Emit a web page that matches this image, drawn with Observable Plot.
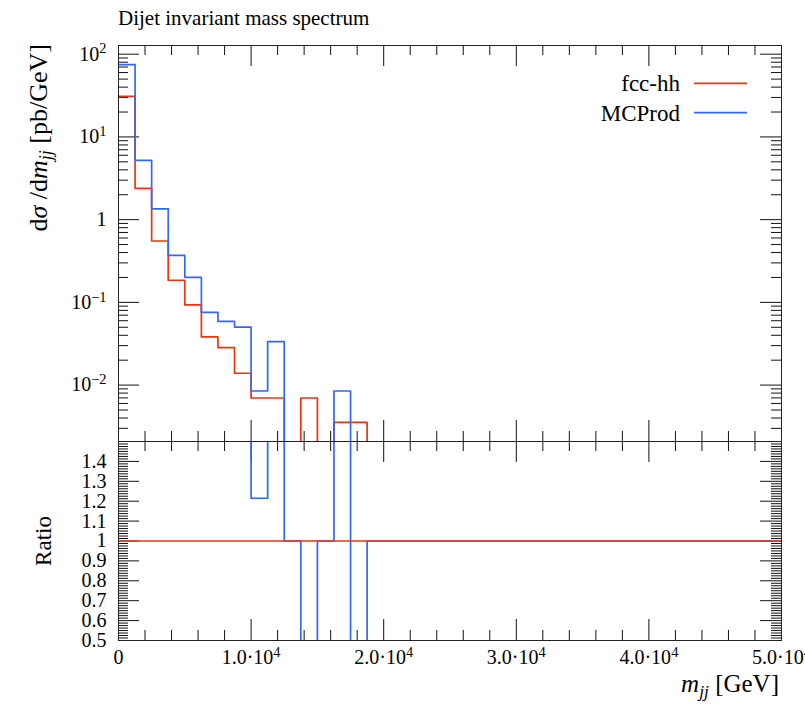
<!DOCTYPE html>
<html><head><meta charset="utf-8">
<script src="https://cdn.jsdelivr.net/npm/d3@7"></script>
<script src="https://cdn.jsdelivr.net/npm/@observablehq/plot@0.6"></script>
<style>
html,body{margin:0;padding:0;background:#fff;}
#chart{position:relative;width:805px;height:704px;font-family:"Liberation Serif",serif;}
#chart svg{position:absolute;left:0;overflow:visible;}
</style></head><body><div id="chart"></div>
<script>
// ---------- data ----------
const title = "Dijet invariant mass spectrum";
const seriesNames = ["fcc-hh", "MCProd"];
const seriesColors = ["#ee3311", "#3366ff"];
const binLowEdges = [0,1250,2500,3750,5000,6250,7500,8750,10000,11250,12500,13750,15000,16250,17500];
const lastEdge = 18750;
const xMax = 50000;
const fccHH  = [31.0,2.39,0.552,0.185,0.093,0.0382,0.0283,0.0139,0.00698,0.00698,0,0.00698,0,0.00354,0.00354];
const mcProd = [74.8,5.21,1.35,0.370,0.201,0.0757,0.0590,0.0503,0.00848,0.0335,0,0,0,0.00848,0];
const xTickValues = [0,10000,20000,30000,40000,50000];
const xTickLabels = ["0","1.0·10^4","2.0·10^4","3.0·10^4","4.0·10^4","5.0·10^4"];
const yTickValues = [100,10,1,0.1,0.01];
const yTickLabels = ["10^2","10^1","1","10^−1","10^−2"];
const ratioTickValues = [1.4,1.3,1.2,1.1,1.0,0.9,0.8,0.7,0.6,0.5];
const ratioTickLabels = ["1.4","1.3","1.2","1.1","1","0.9","0.8","0.7","0.6","0.5"];

// ---------- layout ----------
const W = 805, mainH = 441, ratioH = 263;
const mL = 118, mR = 24, mainTop = 45, ratioBottom = 64;
const plotW = W - mL - mR, mainPlotH = mainH - mainTop, ratioPlotH = ratioH - ratioBottom;
const yDomain = [0.00208, 127.4];
const rDomain = [0.5, 1.5];
const font = '"Liberation Serif", serif';

// ---------- derived series ----------
const floor = 1e-9;
function histPoints(vals) {
  const pts = binLowEdges.map((x, i) => ({x, y: vals[i] > 0 ? vals[i] : floor}));
  pts.push({x: lastEdge, y: floor}, {x: xMax, y: floor});
  return pts;
}
const ratioVals = binLowEdges.map((x, i) => fccHH[i] > 0 ? mcProd[i] / fccHH[i] : (mcProd[i] > 0 ? 10 : 1));
const ratioBlue = binLowEdges.map((x, i) => ({x, y: ratioVals[i]}));
ratioBlue.push({x: lastEdge, y: 1}, {x: xMax, y: 1});
const ratioRed = [{x: 0, y: 1}, {x: xMax, y: 1}];

// ---------- tick positions ----------
const xMinor = []; for (let v = 2000; v < xMax; v += 2000) if (v % 10000) xMinor.push(v);
const yMajor = [100, 10, 1, 0.1, 0.01];
const yMinor = []; for (let e = -3; e <= 2; e++) for (let m = 2; m <= 9; m++) { const v = m * Math.pow(10, e); if (v > yDomain[0] && v < yDomain[1]) yMinor.push(v); }
const rMajor = []; for (let k = 5; k <= 15; k++) rMajor.push(k / 10);
const rMinor = []; for (let k = 41; k < 120; k++) if (k % 8) rMinor.push(k * 0.0125);

function frameTicks(plotH, yMaj, yMin) {
  const s = {stroke: "#111", strokeWidth: 1};
  return [
    Plot.tickY(yMaj, {y: d => d, insetRight: plotW - 21, ...s}),
    Plot.tickY(yMaj, {y: d => d, insetLeft: plotW - 21, ...s}),
    Plot.tickY(yMin, {y: d => d, insetRight: plotW - 10, ...s}),
    Plot.tickY(yMin, {y: d => d, insetLeft: plotW - 10, ...s}),
    Plot.tickX(xTickValues, {x: d => d, insetBottom: plotH - 21, ...s}),
    Plot.tickX(xMinor, {x: d => d, insetBottom: plotH - 10, ...s}),
    Plot.tickX(xTickValues, {x: d => d, insetTop: plotH - 21, ...s}),
    Plot.tickX(xMinor, {x: d => d, insetTop: plotH - 10, ...s})
  ];
}

const styleObj = {fontFamily: font, fontSize: "20px", background: "transparent", overflow: "visible", color: "#000"};

// ---------- main panel ----------
const main = Plot.plot({
  width: W, height: mainH,
  marginLeft: mL, marginRight: mR, marginTop: mainTop, marginBottom: 0,
  style: styleObj,
  x: {domain: [0, xMax], axis: null},
  y: {type: "log", domain: yDomain},
  marks: [
    ...frameTicks(mainPlotH, yMajor, yMinor),
    Plot.line(histPoints(fccHH), {x: "x", y: "y", curve: "step-after", stroke: seriesColors[0], strokeWidth: 1.7, clip: true}),
    Plot.line(histPoints(mcProd), {x: "x", y: "y", curve: "step-after", stroke: seriesColors[1], strokeWidth: 1.7, clip: true}),
    Plot.frame({stroke: "#222", strokeWidth: 1}),
    Plot.axisY({ticks: yTickValues, tickSize: 0, tickPadding: 12, label: null,
      tickFormat: d => yTickLabels[yTickValues.indexOf(d)]})
  ]
});

// ---------- ratio panel ----------
const ratio = Plot.plot({
  width: W, height: ratioH,
  marginLeft: mL, marginRight: mR, marginTop: 0, marginBottom: ratioBottom,
  style: styleObj,
  x: {domain: [0, xMax]},
  y: {domain: rDomain},
  marks: [
    ...frameTicks(ratioPlotH, rMajor, rMinor),
    Plot.line(ratioBlue, {x: "x", y: "y", curve: "step-after", stroke: seriesColors[1], strokeWidth: 1.7, clip: true}),
    Plot.line(ratioRed, {x: "x", y: "y", curve: "step-after", stroke: seriesColors[0], strokeWidth: 1.7, clip: true}),
    Plot.frame({stroke: "#222", strokeWidth: 1}),
    Plot.axisY({ticks: ratioTickValues, tickSize: 0, tickPadding: 12, label: null,
      tickFormat: d => ratioTickLabels[ratioTickValues.indexOf(d)]}),
    Plot.axisX({ticks: xTickValues, tickSize: 0, tickPadding: 9, label: null,
      tickFormat: d => xTickLabels[xTickValues.indexOf(d)]})
  ]
});

main.style.top = "0px";
ratio.style.top = mainH + "px";
const chart = document.getElementById("chart");
chart.appendChild(main);
chart.appendChild(ratio);

// superscripts in tick labels
function supify(svg) {
  d3.select(svg).selectAll("text").each(function () {
    const t = d3.select(this);
    if (t.selectAll("tspan").size()) return;
    const s = t.text();
    if (s.indexOf("^") < 0) return;
    const [base, exp] = s.split("^");
    t.text(null);
    t.append("tspan").text(base);
    t.append("tspan").attr("dy", "-0.5em").attr("font-size", "0.72em").text(exp);
  });
}
supify(main); supify(ratio);

// ---------- text overlays ----------
const ms = d3.select(main);
ms.append("text").attr("x", mL).attr("y", 25).attr("text-anchor", "start")
  .attr("font-size", 21).attr("fill", "#000").text(title);

const yl = ms.append("text").attr("transform", "translate(47,44) rotate(-90)")
  .attr("text-anchor", "end").attr("font-size", 26).attr("fill", "#000");
yl.append("tspan").text("d");
yl.append("tspan").attr("font-style", "italic").text("σ");
yl.append("tspan").text(" /d");
yl.append("tspan").attr("font-style", "italic").text("m");
yl.append("tspan").attr("font-style", "italic").attr("font-size", "0.7em").attr("dy", "0.3em").text("jj");
yl.append("tspan").attr("dy", "-0.21em").text(" [pb/GeV]");

seriesNames.forEach((name, i) => {
  const ly = 83.3 + i * 29.4;
  ms.append("text").attr("x", 680).attr("y", ly + 8).attr("text-anchor", "end")
    .attr("font-size", 23).attr("fill", "#000").text(name);
  ms.append("line").attr("x1", 694).attr("x2", 747).attr("y1", ly).attr("y2", ly)
    .attr("stroke", seriesColors[i]).attr("stroke-width", 1.7);
});

const rs = d3.select(ratio);
rs.append("text").attr("transform", "translate(51,100) rotate(-90)")
  .attr("text-anchor", "middle").attr("font-size", 23).attr("fill", "#000").text("Ratio");
const xl = rs.append("text").attr("x", 779).attr("y", 251).attr("text-anchor", "end")
  .attr("font-size", 25).attr("fill", "#000");
xl.append("tspan").attr("font-style", "italic").text("m");
xl.append("tspan").attr("font-style", "italic").attr("font-size", "0.7em").attr("dy", "0.3em").text("jj");
xl.append("tspan").attr("dy", "-0.21em").text(" [GeV]");
</script></body></html>
